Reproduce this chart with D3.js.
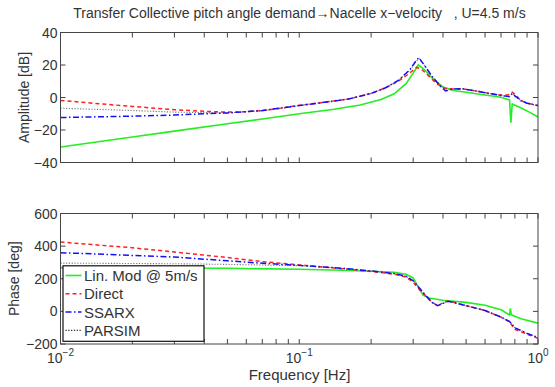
<!DOCTYPE html>
<html><head><meta charset="utf-8">
<script src="https://cdn.jsdelivr.net/npm/d3@7"></script>
<style>
html,body{margin:0;padding:0;background:#fff;}
svg{display:block;font-family:"Liberation Sans",Arial,sans-serif;}
</style></head>
<body><svg id="c" width="555" height="387"></svg>
<script>
// ---------- data ----------
const titleText = "Transfer Collective pitch angle demand\u2192Nacelle x\u2212velocity   , U=4.5 m/s";
const seriesNames = ["Lin. Mod @ 5m/s", "Direct", "SSARX", "PARSIM"];
const ampTicks = [-40, -20, 0, 20, 40];
const phaseTicks = [-200, 0, 200, 400, 600];
const freqTicks = [0.01, 0.1, 1];
const freqTickExp = ["-2", "-1", "0"];

// amplitude [dB]
const linAmpF = [0.01,0.02,0.03,0.05,0.07,0.1,0.14,0.18,0.22,0.25,0.28,0.30,0.315,0.33,0.36,0.40,0.45,0.5,0.6,0.7,0.76,0.77,0.78,0.85,0.92,1.0];
const linAmp  = [-30.5,-24.3,-20.7,-16.2,-13.2,-10,-7.2,-4.6,-1.2,2.3,8.5,15,20,18,12,6.5,4.2,3.2,1.5,0.2,-1.5,-15.5,-4,-6.5,-9,-12];

const dirAmpF = [0.01,0.015,0.02,0.03,0.04,0.05,0.06,0.07,0.08,0.1,0.13,0.16,0.2,0.23,0.26,0.29,0.31,0.325,0.35,0.38,0.41,0.45,0.5,0.6,0.7,0.75,0.78,0.8,0.85,0.9,1.0];
const dirAmp  = [-1.8,-4,-5.5,-7.5,-8.5,-9,-8.8,-8,-7,-4.8,-2.7,-1,2.5,6,10,15,18.5,17.5,13,8,5.5,5.2,5,3,1.5,1.5,3.3,2,-2,-3.5,-5];

const ssaAmpF = [0.01,0.02,0.03,0.05,0.07,0.1,0.13,0.16,0.2,0.23,0.26,0.29,0.31,0.317,0.33,0.36,0.39,0.41,0.44,0.48,0.55,0.65,0.72,0.76,0.78,0.8,0.85,0.9,1.0];
const ssaAmp  = [-12.3,-11.5,-10.8,-9.5,-8,-5,-2.8,-1,2.5,6,10.5,17,23,24.5,21,13,7,4,5.2,5.5,4,2,1,0.5,2.5,1,-2,-3.5,-5];

const parAmpF = [0.01,0.02,0.03,0.05,0.07,0.1,0.13,0.16,0.2,0.23,0.26,0.29,0.31,0.317,0.33,0.36,0.39,0.41,0.44,0.48,0.55,0.65,0.72,0.76,0.78,0.8,0.85,0.9,1.0];
const parAmp  = [-6.6,-8,-9,-9.5,-8.2,-5,-2.8,-1,2.5,6,10.5,16.5,22.5,24,21,13,7.5,4.5,5.3,5.5,4,2,1,0.6,2.7,1,-2,-3.5,-5];

// phase [deg]
const linPhF = [0.01,0.02,0.05,0.1,0.15,0.2,0.25,0.28,0.30,0.315,0.33,0.35,0.4,0.5,0.6,0.7,0.76,0.766,0.772,0.78,0.85,1.0];
const linPh  = [268,266,264,258,252,246,240,228,205,150,100,82,68,55,38,10,-22,18,-18,-24,-45,-72];

const dirPhF = [0.01,0.02,0.03,0.05,0.07,0.1,0.15,0.2,0.25,0.28,0.30,0.32,0.34,0.36,0.38,0.41,0.43,0.5,0.6,0.7,0.76,0.8,0.9,1.0];
const dirPh  = [425,390,364,330,305,285,262,245,228,210,180,130,90,55,35,60,62,35,5,-35,-65,-110,-140,-165];

const ssaPhF = [0.01,0.02,0.03,0.05,0.07,0.1,0.15,0.2,0.25,0.28,0.30,0.32,0.34,0.36,0.38,0.42,0.5,0.6,0.7,0.76,0.8,0.9,1.0];
const ssaPh  = [360,343,333,310,295,282,265,248,232,215,188,140,95,55,35,62,35,5,-35,-62,-100,-135,-160];

const parPhF = [0.01,0.03,0.05,0.1,0.15,0.2,0.25,0.28,0.30,0.32,0.34,0.36,0.38,0.42,0.5,0.6,0.7,0.76,0.8,0.9,1.0];
const parPh  = [296,292,288,280,264,248,232,215,188,140,95,55,36,62,35,5,-35,-62,-100,-135,-160];

// ---------- drawing ----------
const svg = d3.select("#c");
const X0 = 60.5, X1 = 538;
const x = d3.scaleLog().domain([0.01, 1]).range([X0, X1]);
const yA = d3.scaleLinear().domain([-40, 40]).range([162.5, 32.5]);
const yP = d3.scaleLinear().domain([-200, 600]).range([344, 213.5]);
const textCol = "#333";
const frameCol = "#444";

const styles = [
  {color:"#22ee22", width:1.6, dash:null},
  {color:"#ff2020", width:1.5, dash:"4,3"},
  {color:"#1010ff", width:1.5, dash:"6,2.5,1.5,2.5"},
  {color:"#777", width:1.1, dash:"1.2,1.6"}
];

svg.append("text").attr("x", 299.5).attr("y", 18).attr("text-anchor","middle")
  .attr("font-size", 14).attr("fill", textCol).attr("xml:space","preserve")
  .style("white-space","pre").text(titleText);

const minorTicks = [];
for (let d = -2; d < 0; d++) for (let k = 2; k <= 9; k++) minorTicks.push(k*Math.pow(10,d));

function panel(y, yTicks, label, labelX, showX) {
  const g = svg.append("g");
  const [yb, yt] = y.range();
  g.append("rect").attr("x", X0).attr("y", yt).attr("width", X1-X0).attr("height", yb-yt)
    .attr("fill", "#fff");
  const allX = freqTicks.concat(minorTicks);
  allX.forEach(f => {
    const xx = x(f);
    g.append("line").attr("x1", xx).attr("x2", xx).attr("y1", yb).attr("y2", yb-5).attr("stroke", frameCol);
    g.append("line").attr("x1", xx).attr("x2", xx).attr("y1", yt).attr("y2", yt+5).attr("stroke", frameCol);
  });
  yTicks.forEach(v => {
    const yy = y(v);
    g.append("line").attr("x1", X0).attr("x2", X0+5).attr("y1", yy).attr("y2", yy).attr("stroke", frameCol);
    g.append("line").attr("x1", X1).attr("x2", X1-5).attr("y1", yy).attr("y2", yy).attr("stroke", frameCol);
    g.append("text").attr("x", X0-3).attr("y", yy+5).attr("text-anchor","end")
      .attr("font-size", 14).attr("fill", textCol).text(v < 0 ? "\u2212" + Math.abs(v) : v);
  });
  g.append("text").attr("transform", `translate(${labelX},${(yt+yb)/2}) rotate(-90)`)
    .attr("text-anchor","middle").attr("font-size", 14).attr("fill", textCol).text(label);
  if (showX) {
    freqTicks.forEach((f, i) => {
      const t = g.append("text").attr("x", x(f)).attr("y", yb+19).attr("text-anchor","middle")
        .attr("font-size", 14).attr("fill", textCol);
      t.append("tspan").text("10");
      t.append("tspan").attr("dy", -7).attr("font-size", 10).text(freqTickExp[i].replace("-", "\u2212"));
    });
  }
  return g;
}

function drawLines(g, y, sets) {
  const clipId = "clip" + Math.round(y.range()[1]);
  const [yb, yt] = y.range();
  svg.append("clipPath").attr("id", clipId).append("rect")
    .attr("x", X0).attr("y", yt).attr("width", X1-X0).attr("height", yb-yt);
  const line = d3.line().x(d => x(d[0])).y(d => y(d[1]));
  const order = [0, 3, 1, 2];
  order.forEach(i => {
    const [fs, vs] = sets[i];
    const st = styles[i];
    g.append("path").datum(fs.map((f, j) => [f, vs[j]]))
      .attr("d", line).attr("fill","none").attr("stroke", st.color)
      .attr("stroke-width", st.width).attr("stroke-dasharray", st.dash)
      .attr("clip-path", `url(#${clipId})`);
  });
}

const gA = panel(yA, ampTicks, "Amplitude [dB]", 29, false);
drawLines(gA, yA, [[linAmpF, linAmp],[dirAmpF, dirAmp],[ssaAmpF, ssaAmp],[parAmpF, parAmp]]);
gA.append("rect").attr("x", X0).attr("y", 32.5).attr("width", X1-X0).attr("height", 130)
  .attr("fill","none").attr("stroke", frameCol);

const gP = panel(yP, phaseTicks, "Phase [deg]", 19, true);
drawLines(gP, yP, [[linPhF, linPh],[dirPhF, dirPh],[ssaPhF, ssaPh],[parPhF, parPh]]);
gP.append("rect").attr("x", X0).attr("y", 213.5).attr("width", X1-X0).attr("height", 130.5)
  .attr("fill","none").attr("stroke", frameCol);

svg.append("text").attr("x", 299.5).attr("y", 380).attr("text-anchor","middle")
  .attr("font-size", 15).attr("fill", textCol).text("Frequency [Hz]");

// legend
const lg = svg.append("g");
lg.append("rect").attr("x", 63).attr("y", 265.8).attr("width", 141).attr("height", 75.5)
  .attr("fill","#fff").attr("stroke","#111").attr("stroke-width", 1.2);
seriesNames.forEach((n, i) => {
  const yy = 275.5 + i*18.3;
  const st = styles[i];
  lg.append("line").attr("x1", 65.5).attr("x2", 81.5).attr("y1", yy).attr("y2", yy)
    .attr("stroke", i === 3 ? "#222" : st.color).attr("stroke-width", st.width)
    .attr("stroke-dasharray", st.dash);
  lg.append("text").attr("x", 84).attr("y", yy+5.5).attr("font-size", 15)
    .attr("fill", textCol).text(n);
});
</script></body></html>
